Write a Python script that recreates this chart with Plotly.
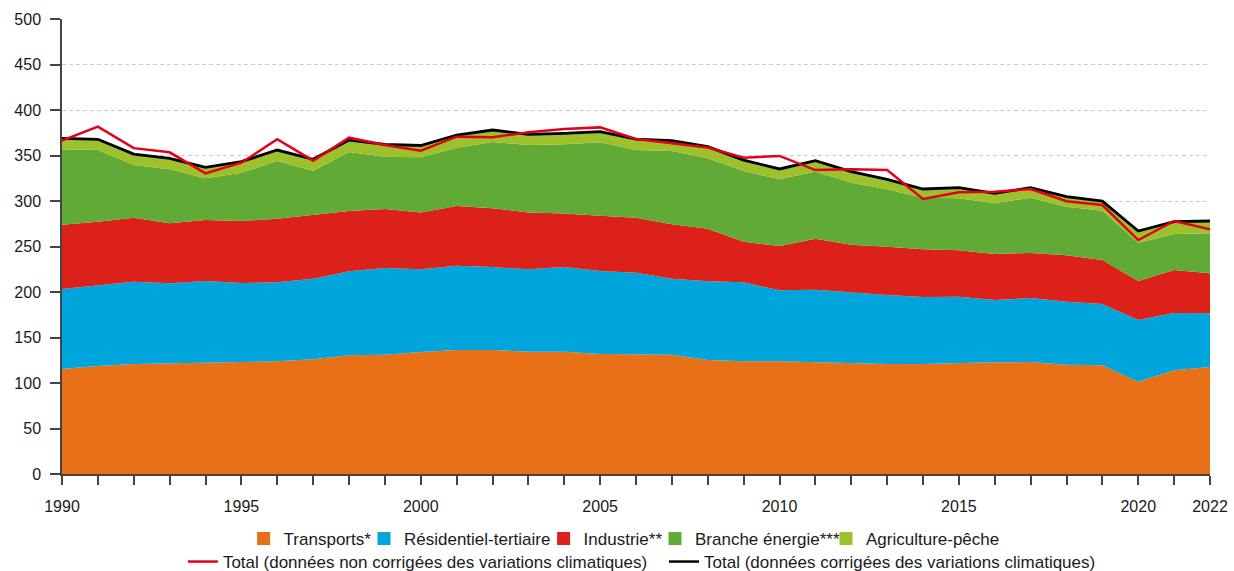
import plotly.graph_objects as go

years = list(range(1990, 2023))

transports = [115.5, 118.7, 120.9, 121.6, 123.0, 123.8, 123.8, 126.0, 130.4, 131.1, 134.2,
              136.3, 136.3, 134.4, 134.4, 131.9, 131.9, 131.1, 125.3, 123.8, 123.8,
              122.7, 121.3, 120.9, 120.9, 122.0, 122.7, 123.0, 120.1, 119.4, 101.5, 113.9, 117.6]
residentiel = [87.8, 88.6, 90.5, 87.9, 89.0, 86.1, 86.8, 88.6, 92.3, 95.3, 90.7,
               92.6, 91.2, 90.5, 93.1, 91.1, 89.3, 83.5, 86.4, 86.8, 78.0,
               79.8, 78.0, 75.8, 73.6, 72.9, 68.5, 70.4, 69.3, 67.4, 67.7, 63.0, 59.0]
industrie = [70.7, 70.0, 70.3, 66.0, 67.1, 68.1, 70.0, 70.0, 66.3, 64.8, 62.6,
             65.6, 64.5, 62.6, 58.9, 60.9, 60.5, 59.8, 57.9, 44.7, 48.7,
             55.9, 52.7, 53.1, 52.4, 50.9, 50.6, 49.5, 50.9, 48.4, 42.9, 47.3, 43.9]
energie = [82.8, 78.7, 57.9, 59.3, 45.8, 53.0, 63.3, 48.7, 64.8, 57.5, 60.5,
           64.1, 72.8, 74.0, 75.9, 80.6, 74.3, 80.5, 77.3, 77.7, 73.3,
           74.1, 68.1, 63.0, 56.8, 57.2, 55.7, 60.8, 53.5, 54.2, 42.1, 39.5, 44.0]
agriculture = [12.1, 11.8, 12.0, 12.1, 12.1, 12.2, 12.1, 12.5, 13.2, 13.6, 13.0,
               13.9, 13.2, 11.8, 12.1, 11.7, 12.1, 11.4, 12.8, 12.0, 11.4,
               11.8, 12.1, 11.0, 9.5, 11.7, 10.9, 11.0, 11.0, 10.4, 12.8, 13.6, 13.5]
total_non_corrige = [366.5, 381.7, 358.1, 353.5, 330.4, 342.1, 367.8, 344.3, 369.6, 361.5, 355.3,
                     370.7, 370.0, 375.5, 379.1, 380.9, 368.1, 363.4, 358.8, 347.6, 349.5,
                     334.0, 334.8, 334.0, 302.2, 309.5, 310.3, 313.2, 299.8, 295.6, 257.1, 278.0, 268.9]
total_corrige = [368.9, 367.8, 351.6, 346.9, 337.0, 343.2, 356.0, 345.8, 367.0, 362.3, 361.0,
                 372.5, 378.0, 373.3, 374.4, 376.2, 368.1, 366.3, 359.7, 345.0, 335.2,
                 344.3, 332.2, 323.8, 313.2, 314.7, 308.4, 314.7, 304.8, 299.8, 267.0, 277.3, 278.0]

x_tickvals = [1990, 1995, 2000, 2005, 2010, 2015, 2020, 2022]
x_ticktext = ["1990", "1995", "2000", "2005", "2010", "2015", "2020", "2022"]

area_names = ["Transports*", "Résidentiel-tertiaire", "Industrie**", "Branche énergie***", "Agriculture-pêche"]
area_values = [transports, residentiel, industrie, energie, agriculture]
area_colors = ["#E87016", "#00A5DB", "#DB2119", "#62AA36", "#9EC12B"]

line_names = ["Total (données non corrigées des variations climatiques)",
              "Total (données corrigées des variations climatiques)"]
line_values = [total_non_corrige, total_corrige]
line_colors = ["#E3001B", "#000000"]

# layout: legend entry text start positions (pixels) and rows
W, H = 1234, 571
ML, MR, MT, MB = 62, 24, 19, 97
PW, PH = W - ML - MR, H - MT - MB
area_leg_px = [283.6, 404, 583.6, 695, 866]
line_leg_px = [222.9, 704]
row_y_px = [539, 562]
TEXT_OFFSET = 40
LEG_FONT = 17


def px_to_x(px):
    return (px - TEXT_OFFSET - ML) / PW


def py_to_y(py):
    return 1 - (py - MT) / PH


FONT = "Liberation Sans, Arial, Helvetica, sans-serif"

fig = go.Figure()
for name, vals, col in zip(area_names, area_values, area_colors):
    fig.add_trace(go.Scatter(x=years, y=vals, stackgroup="s", mode="lines",
                             line=dict(width=0, color=col), fillcolor=col,
                             name=name, showlegend=False, hoverinfo="x+y+name"))

fig.add_trace(go.Scatter(x=years, y=total_corrige, mode="lines",
                         line=dict(color="#000000", width=2.8), showlegend=False))
fig.add_trace(go.Scatter(x=years, y=total_non_corrige, mode="lines",
                         line=dict(color="#E3001B", width=2.5), showlegend=False))

legend_layouts = {}
k = 1
for name, col, px in zip(area_names, area_colors, area_leg_px):
    key = "legend" if k == 1 else f"legend{k}"
    fig.add_trace(go.Scatter(x=[None], y=[None], mode="markers", name=name,
                             marker=dict(symbol="square", size=13, color=col), legend=key))
    legend_layouts[key] = dict(x=px_to_x(px), xanchor="left", y=py_to_y(row_y_px[0]), yanchor="middle",
                               orientation="h", font=dict(size=LEG_FONT), itemwidth=30,
                               bgcolor="rgba(0,0,0,0)")
    k += 1
for name, col, px in zip(line_names, line_colors, line_leg_px):
    key = f"legend{k}"
    fig.add_trace(go.Scatter(x=[None], y=[None], mode="lines", name=name,
                             line=dict(color=col, width=2.5), legend=key))
    legend_layouts[key] = dict(x=px_to_x(px), xanchor="left", y=py_to_y(row_y_px[1]), yanchor="middle",
                               orientation="h", font=dict(size=LEG_FONT), itemwidth=30,
                               bgcolor="rgba(0,0,0,0)")
    k += 1

fig.update_layout(
    width=W, height=H,
    margin=dict(l=ML, r=MR, t=MT, b=MB, autoexpand=False),
    plot_bgcolor="white", paper_bgcolor="white",
    font=dict(family=FONT, size=16, color="#1a1a1a"),
    xaxis=dict(range=[1990, 2022], tickmode="array", tickvals=x_tickvals, ticktext=x_ticktext,
               ticks="outside", ticklen=9, tickwidth=1.5, tickcolor="#444", showgrid=False,
               showline=True, linecolor="#444", linewidth=1.5, zeroline=False,
               minor=dict(dtick=1, tick0=1990, ticks="outside", ticklen=9, tickwidth=1.5,
                          tickcolor="#444", showgrid=False),
               tickfont=dict(size=16), ticklabelstandoff=8, automargin=False),
    yaxis=dict(range=[0, 500], dtick=50, ticks="outside", ticklen=10, tickwidth=1.5, tickcolor="#444",
               showgrid=True, gridcolor="#cccccc", griddash="4px,3px", gridwidth=1,
               showline=True, linecolor="#444", linewidth=1.5, zeroline=False,
               tickfont=dict(size=16), ticklabelstandoff=6, automargin=False),
    **legend_layouts,
)

fig.write_html("out.html", post_script="document.body.style.margin='0';",
               config={"displayModeBar": False})
